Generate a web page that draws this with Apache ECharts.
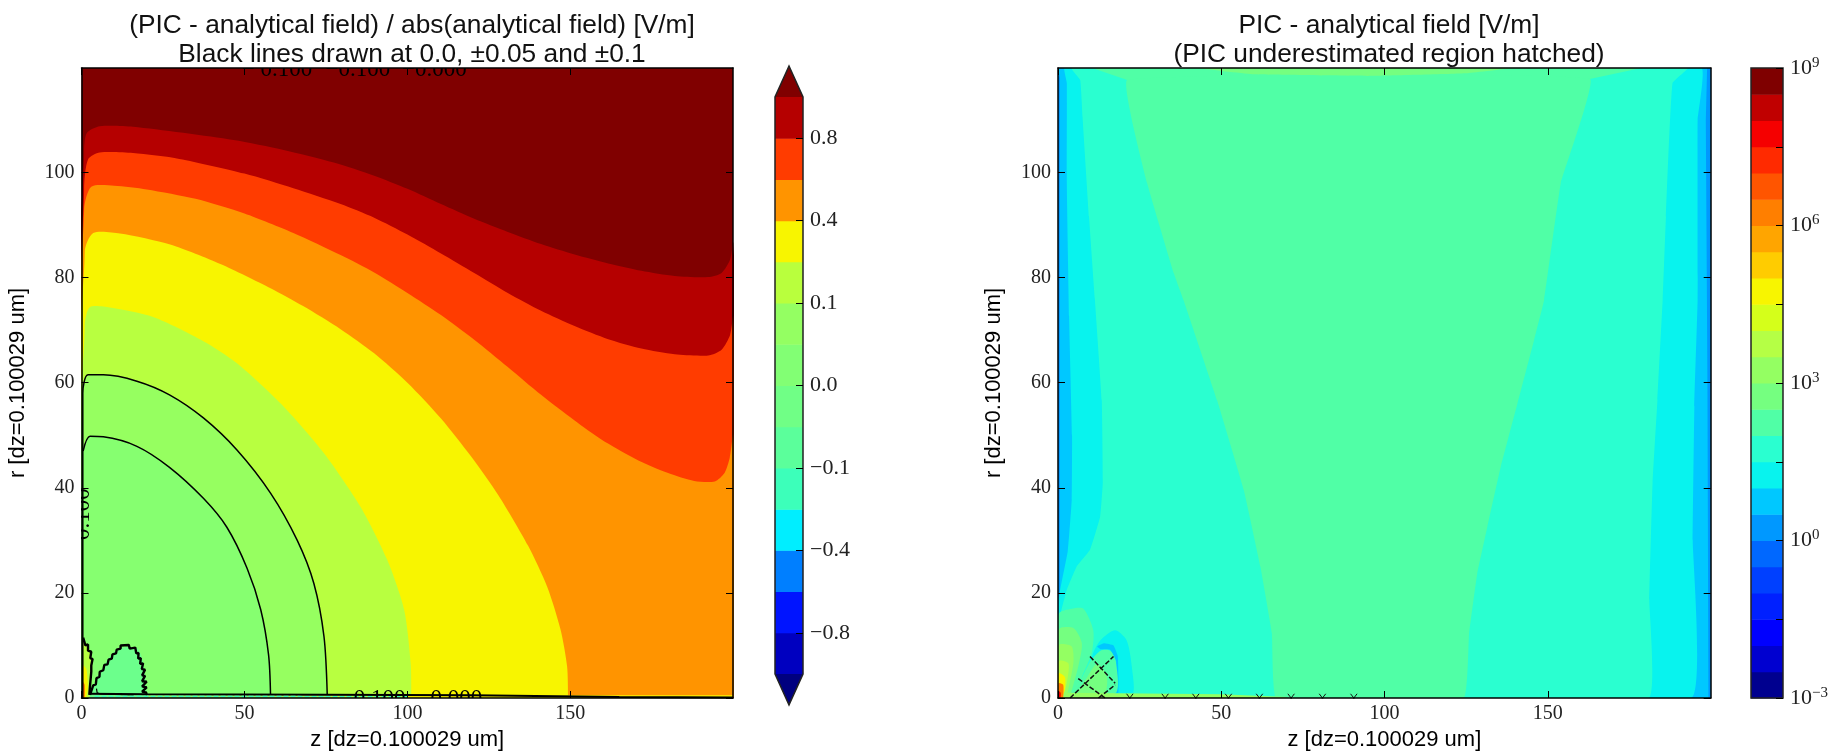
<!DOCTYPE html>
<html>
<head>
<meta charset="utf-8">
<title>PIC vs analytical field</title>
<style>
  html, body { margin: 0; padding: 0; background: #fff; }
  #chart { width: 1837px; height: 751px; }
</style>
<script src="https://cdn.jsdelivr.net/npm/echarts@6/dist/echarts.min.js"></script>
</head>
<body>
<div id="chart"></div>
<script>
// axes
const zMax = 199.9
const rMax = 119.9
const zTicks = [0, 50, 100, 150]
const rTicks = [0, 20, 40, 60, 80, 100]

// left panel: band edges, as [z, r]
const edgeDark = [[0.8, 104], [1.6, 107.5], [5.6, 108.8], [15.8, 108.7], [46.6, 106.2], [62, 104.3], [77.4, 101.9], [89.8, 99.4], [100, 96.9], [110.3, 94], [120.5, 91.2], [130.8, 88.7], [141, 86.4], [151.3, 84.4], [161.6, 82.7], [171.8, 81.3], [182, 80.3], [192.3, 80.1], [196.4, 80.9], [199, 83.4], [200, 86.6]]
const edgeRed = [[0.8, 97], [2, 102.5], [5.6, 103.8], [15.8, 103.7], [30, 102.6], [50, 99.8], [65, 97], [79.5, 94], [89.8, 91.4], [100, 88.2], [110.3, 84.6], [120.5, 80.9], [130.8, 77.1], [141, 73.7], [151.3, 70.8], [161.6, 68.3], [171.8, 66.5], [182, 65.4], [192.3, 65.2], [196.4, 66.3], [199, 69.1], [200, 72.6]]
const edgeOrange = [[0.8, 93], [3, 97.3], [10, 97.5], [20, 96.8], [35, 95], [50, 92.2], [65, 88.5], [79.5, 84.3], [89.8, 81], [100, 77.1], [110.3, 72.9], [120.5, 68.2], [130.8, 63], [141, 57.7], [151.3, 52.8], [159.5, 49.2], [170, 45.5], [180, 42.8], [188, 41.3], [194.3, 41.2], [197.3, 42.8], [198.9, 45.7], [200, 50]]
const edgeYellow = [[1, 85], [3.6, 88.5], [11.8, 88.4], [27.2, 86.3], [42.6, 82.6], [58, 78], [68, 74.6], [79.5, 70.2], [89.8, 65.6], [100, 60], [110.3, 53.2], [119.5, 46], [128, 38.5], [137, 29], [143, 21], [147, 13], [149, 6], [149.3, 0]]
const edgeLime = [[1, 71], [2.6, 74.4], [8.7, 74.3], [22, 72.5], [37.4, 67.9], [47.7, 63.7], [62, 55.5], [74.4, 46.6], [85.6, 36.4], [93.8, 26.3], [99, 16.8], [101, 6.6], [101.2, 0]]
const contourOuter = [[0.4, 0], [0.4, 58], [2, 61.5], [6.7, 61.5], [17, 60.3], [27, 57.7], [37.4, 53.3], [47.7, 47.2], [58, 39], [66.2, 30], [71.3, 21.8], [74.4, 11.7], [75.4, 0.6]]
const contourInner = [[0.5, 47], [2.6, 49.8], [6.7, 49.7], [17, 47.9], [27, 43.9], [37.4, 38], [44.6, 32.5], [50.8, 24.7], [55, 16.8], [57.4, 8.2], [58, 0.6]]
const bumpEdge = [[2.6, 0.6], [5.1, 4.1], [8.7, 7.9], [11.8, 9.5], [17, 9.5], [19, 6.6], [20, 0.6]]
const bumpContour = [[2.6, 0.6], [3.6, 2.4], [4.4, 2.6], [4.6, 3.8], [5.5, 4], [5.6, 5], [6.7, 5.3], [7, 6.3], [8, 6.4], [8.3, 7.3], [9.3, 7.5], [9.5, 8.3], [10.6, 8.5], [10.8, 9.2], [12, 9.4], [12, 10], [14.5, 10.1], [14.8, 9.4], [16.5, 9.6], [16.8, 8.5], [17.5, 8.6], [17.4, 7.5], [18.2, 7.6], [18, 6.5], [18.9, 6.6], [18.5, 5.5], [19.5, 5.4], [18.6, 4.3], [19.5, 4.2], [18.6, 3.2], [20, 3.1], [18.6, 2.2], [20, 2], [18.6, 1.2], [20, 1], [19.6, 0.6]]
const bumpInner = [[4.6, 1.8], [4.8, 1], [5.6, 0.8], [10, 0.7], [16, 0.6]]
const spikeEdge = [[0.4, 11], [2, 10], [3.3, 7], [3, 3], [2.4, 0]]
const spikeYellow = [[0.4, 6.2], [1.5, 5.5], [2, 2], [1.5, 0]]
const spikeOrange = [[0.4, 3], [1, 2.5], [1, 0]]
const spikeContour = [[0.5, 11.5], [1.2, 10], [2, 10.2], [2, 9], [3, 8.8], [2.7, 7.6], [3.4, 7.4], [3, 6.2], [3.6, 6], [3, 5], [3.5, 4.7], [2.8, 3.6], [3.2, 3.3], [2.6, 2.2], [3, 1.9], [2.4, 0.6]]
const axisContour = [[2.4, 0.8], [20, 0.7], [75, 0.6], [120, 0.5], [165, 0.2], [199.9, 0.1]]
const axisTeal = [[4, 0.3], [20, 0.3], [60, 0.3], [100, 0.25]]
const stripYellow = [[100, 0.5], [199.9, 0.5], [199.9, 0], [100, 0]]
const contourLabels = [
  { text: '\u2212 0.100', z: 60, r: 119.5, rot: 0 },
  { text: '\u22120.100', z: 84.8, r: 119.5, rot: 0 },
  { text: '\u22120.000', z: 108.3, r: 119.5, rot: 0 },
  { text: '0.100', z: 91.5, r: -0.2, rot: 0 },
  { text: '0.000', z: 115, r: -0.2, rot: 0 },
  { text: '0.100', z: 0.4, r: 35, rot: 90 }
]

// right panel
const cyanLeft = [[2, 120], [2.7, 117], [2.7, 98], [3.4, 72.6], [4.3, 50], [4.2, 37.7], [3, 28], [0.5, 20], [0.2, 15.5], [0.2, 0]]
const cyanRight = [[197, 120], [195.9, 110], [195.9, 75.8], [194.9, 55.5], [194.4, 30], [193.9, 0]]
const tealFill = [[4, 120], [6.8, 117.6], [7.5, 110.7], [9.5, 91.6], [11.3, 75.8], [13.4, 56.7], [13.7, 40.9], [12.9, 34.5], [9.8, 28.2], [5.7, 25], [2.7, 20.6], [0.6, 15.5], [0.4, 10.4], [0.4, 0], [180.8, 0], [181.1, 18.7], [182.1, 40.9], [183.6, 56.7], [185.2, 75.8], [186.2, 91.6], [188.2, 117], [193, 120]]
const greenFill = [[21.2, 117.6], [27.3, 98], [35.5, 80.8], [38.4, 75.8], [48.7, 56.7], [56.9, 39.6], [62, 25], [65.5, 12.3], [66.8, 0], [124.3, 0], [125.9, 12.3], [128.4, 23.7], [131.5, 32.6], [135.6, 44], [140.7, 56], [145.8, 68.1], [148.9, 75.8], [154, 98], [162.9, 117.8]]
const greenTop = [[10, 120], [21.2, 117.6], [162.9, 117.8], [179.4, 120]]
const topLime = [[42, 120], [60, 118.7], [95, 118.4], [125, 118.9], [140, 120]]
const blueLeft = [[0, 120], [0.6, 118], [0.6, 20], [0, 19]]
const blueRight = [[198.8, 120], [198.4, 110], [198.9, 60], [199.2, 0], [200, 0], [200, 120]]
const hotFill = [[0.2, 16], [4.2, 17], [7.8, 17], [10.8, 12.9], [10.3, 8.5], [7.3, 4], [5.2, 0]]
const hotGreen = [[0.2, 13], [4.7, 13.3], [7.3, 10.4], [6.2, 6], [3.7, 0]]
const hotLime = [[0.2, 10], [4.2, 9.8], [4.7, 6.6], [2.7, 0]]
const hotYellowGreen = [[0.2, 7], [3.2, 6.6], [2.7, 2.8], [1.6, 0]]
const hotYellow = [[0.2, 4.7], [2.1, 4], [2.1, 1.5], [1.1, 0]]
const hotOrange = [[0.2, 2.8], [1.6, 2.5], [1.6, 0]]
const hotRed = [[0.2, 1.3], [0.8, 1], [0.8, 0]]
const coolCyan = [[10.5, 8], [13, 11], [17.5, 12.9], [21, 11], [22.6, 6], [22.6, 0.5], [10, 0.5]]
const coolBlue = [[12, 9.8], [14, 10.4], [17, 10], [18.3, 8], [18.5, 4], [18.5, 1], [17.9, 1], [17.8, 7], [16, 9.2], [13, 9.3]]
const coolGreen = [[4.5, 0.5], [7, 3.5], [10, 7], [13, 9], [16, 9], [17.7, 7], [17.7, 1]]
const coolLime = [[6, 0.5], [9, 4], [12, 6.5], [15, 4], [14, 0.5]]
const stripLeft = [[2, 1], [50, 0.7], [70, 0.2], [70, 0], [2, 0]]
const hatchLong = [[[3.7, 0], [17, 7.9]], [[9.8, 7.9], [17.5, 2.8]], [[6.2, 3.7], [14.4, 0]], [[12.4, 0], [17.5, 2.5]]]
const hatchCross = [22, 32.8, 42.2, 52.2, 61.7, 71.4, 81, 90.6]

// colorbars
const leftBarColors = ['#0000C0', '#0014FF', '#007FFF', '#00EEFF', '#3CFFBA', '#5BFF9B', '#70FF86', '#82FF74', '#94FF62', '#B9FF3D', '#F8F500', '#FF9400', '#FF3C00', '#B50000']
const leftBarTicks = [1, 3, 5, 7, 9, 11, 13]
const leftBarLabels = ['\u22120.8', '\u22120.4', '\u22120.1', '0.0', '0.1', '0.4', '0.8']
const rightBarColors = ['#00008F', '#0000D0', '#0000FF', '#0020FF', '#0040FF', '#0068FF', '#0098FF', '#00C8FF', '#08F3EE', '#2AFFD0', '#50FFA6', '#75FF80', '#94FF62', '#B5FF45', '#D5FF1A', '#F8F500', '#FFCC00', '#FFA500', '#FF7F00', '#FF5500', '#FF2A00', '#F50000', '#C00000', '#7F0000']
const rightBarTicks = [0, 3, 6, 9, 12, 15, 18, 21, 24]
const rightBarExps = [-3, 0, 3, 6, 9]

const tickFont = 'Liberation Serif'
const sansFont = 'Liberation Sans'

// polygons are closed under the r = 0 line so the plot clip trims them
function close(points) {
  const first = points[0]
  const last = points[points.length - 1]
  return points.concat([[last[0] + (last[0] >= 199 ? 4 : 0), -3], [first[0], -3]])
}

const leftBands = [
  { color: '#B50000', points: close(edgeDark), smooth: 0.25 },
  { color: '#FF3C00', points: close(edgeRed), smooth: 0.25 },
  { color: '#FF9400', points: close(edgeOrange), smooth: 0.25 },
  { color: '#F8F500', points: close(edgeYellow), smooth: 0.25 },
  { color: '#B8FF40', points: close(edgeLime), smooth: 0.25 },
  { color: '#96FF60', points: close(contourOuter.slice(1)), smooth: 0.25 },
  { color: '#86FF70', points: close(contourInner), smooth: 0.25 },
  { color: '#6CFF8C', points: close(bumpEdge), smooth: 0.25 },
  { color: '#B8FF40', points: close(spikeEdge), smooth: 0.25 },
  { color: '#F8F500', points: close(spikeYellow), smooth: 0.25 },
  { color: '#FF7F00', points: close(spikeOrange), smooth: 0.25 },
  { color: '#F8F500', points: stripYellow, smooth: 0 }
]

const rightBands = [
  { color: '#0098FF', points: blueLeft, smooth: 0 },
  { color: '#0098FF', points: blueRight, smooth: 0 },
  { color: '#08F3EE', points: cyanLeft.concat([[193.9, 0]], cyanRight.slice(0, -1).reverse()), smooth: 0.1 },
  { color: '#2AFFD0', points: tealFill, smooth: 0.1 },
  { color: '#50FFA6', points: greenTop, smooth: 0 },
  { color: '#50FFA6', points: greenFill, smooth: 0.08 },
  { color: '#75FF80', points: topLime, smooth: 0.1 },
  { color: '#08F3EE', points: coolCyan, smooth: 0.25 },
  { color: '#00C8FF', points: coolBlue, smooth: 0.1 },
  { color: '#50FFA6', points: coolGreen, smooth: 0.25 },
  { color: '#75FF80', points: coolLime, smooth: 0.25 },
  { color: '#50FFA6', points: close(hotFill), smooth: 0.25 },
  { color: '#75FF80', points: close(hotGreen), smooth: 0.25 },
  { color: '#94FF62', points: close(hotLime), smooth: 0.25 },
  { color: '#B5FF45', points: close(hotYellowGreen), smooth: 0.25 },
  { color: '#F8F500', points: close(hotYellow), smooth: 0.25 },
  { color: '#FF7F00', points: close(hotOrange), smooth: 0.25 },
  { color: '#F50000', points: close(hotRed), smooth: 0.25 },
  { color: '#94FF62', points: stripLeft, smooth: 0 }
]

function bandSeries(bands, axisIndex) {
  return {
    type: 'custom',
    xAxisIndex: axisIndex,
    yAxisIndex: axisIndex,
    clip: true,
    silent: true,
    animation: false,
    z: 2,
    data: bands.map((b, i) => [i, 0]),
    renderItem(params, api) {
      const band = bands[api.value(0)]
      return {
        type: 'polygon',
        shape: { points: band.points.map(p => api.coord(p)), smooth: band.smooth },
        style: { fill: band.color }
      }
    }
  }
}

function lineSeries(points, axisIndex, width, color, dashed, smooth) {
  return {
    type: 'line',
    xAxisIndex: axisIndex,
    yAxisIndex: axisIndex,
    data: points,
    showSymbol: false,
    clip: true,
    silent: true,
    animation: false,
    smooth: smooth || false,
    z: 3,
    lineStyle: { color: color || '#000', width: width, type: dashed ? [5, 2] : 'solid' }
  }
}

function contourLabelSeries() {
  return {
    type: 'custom',
    xAxisIndex: 0,
    yAxisIndex: 0,
    clip: true,
    silent: true,
    animation: false,
    z: 4,
    data: contourLabels.map((l, i) => [i, 0]),
    renderItem(params, api) {
      const label = contourLabels[api.value(0)]
      const pos = api.coord([label.z, label.r])
      return {
        type: 'text',
        x: pos[0],
        y: pos[1],
        rotation: label.rot * Math.PI / 180,
        style: {
          text: label.text,
          font: '23px "' + tickFont + '"',
          fill: '#000',
          textAlign: 'center',
          textVerticalAlign: 'middle'
        }
      }
    }
  }
}

// a colorbar is a stack of unit cells on a value axis, tips optional
function barSeries(colors, axisIndex, tips) {
  return {
    type: 'custom',
    xAxisIndex: axisIndex,
    yAxisIndex: axisIndex,
    clip: false,
    silent: true,
    animation: false,
    z: 2,
    data: colors.map((c, i) => [i, 0]).concat([[-1, 0]]),
    renderItem(params, api) {
      const i = api.value(0)
      const n = colors.length
      if (i >= 0) {
        const a = api.coord([0, i])
        const b = api.coord([1, i + 1])
        return {
          type: 'rect',
          shape: { x: a[0], y: b[1], width: b[0] - a[0], height: a[1] - b[1] + 0.5 },
          style: { fill: colors[i] }
        }
      }
      const tip = 0.75
      const outline = [[0, 0], [1, 0], [1, n], [0, n]]
      const children = []
      if (tips) {
        outline.splice(1, 0, [0.5, -tip])
        outline.splice(4, 0, [0.5, n + tip])
        children.push({ type: 'polygon', shape: { points: [[0, 0], [0.5, -tip], [1, 0]].map(p => api.coord(p)) }, style: { fill: '#00007F' } })
        children.push({ type: 'polygon', shape: { points: [[0, n], [0.5, n + tip], [1, n]].map(p => api.coord(p)) }, style: { fill: '#800000' } })
      }
      children.push({ type: 'polygon', shape: { points: outline.map(p => api.coord(p)) }, style: { fill: 'none', stroke: '#222', lineWidth: 1.5 } })
      return { type: 'group', children: children }
    }
  }
}

function frameX(gridIndex, position) {
  const bottom = position === 'bottom'
  return {
    type: 'value',
    gridIndex: gridIndex,
    position: position,
    min: 0,
    max: zMax,
    z: 6,
    name: bottom ? 'z [dz=0.100029 um]' : '',
    nameLocation: 'middle',
    nameGap: 26,
    nameTextStyle: { fontFamily: sansFont, fontSize: 22, color: '#000' },
    splitLine: { show: false },
    axisLine: { onZero: false, lineStyle: { color: '#000', width: 1.5 } },
    axisTick: { inside: true, length: 7, customValues: zTicks, lineStyle: { color: '#000' } },
    axisLabel: { show: bottom, customValues: zTicks, margin: 6, fontFamily: tickFont, fontSize: 20, color: '#222', hideOverlap: false }
  }
}

function frameY(gridIndex, position) {
  const left = position === 'left'
  return {
    type: 'value',
    gridIndex: gridIndex,
    position: position,
    min: 0,
    max: rMax,
    z: 6,
    name: left ? 'r [dz=0.100029 um]' : '',
    nameLocation: 'middle',
    nameGap: 53,
    nameTextStyle: { fontFamily: sansFont, fontSize: 22, color: '#000' },
    splitLine: { show: false },
    axisLine: { onZero: false, lineStyle: { color: '#000', width: 1.5 } },
    axisTick: { inside: true, length: 7, customValues: rTicks, lineStyle: { color: '#000' } },
    axisLabel: { show: left, customValues: rTicks, margin: 7, fontFamily: tickFont, fontSize: 20, color: '#222', hideOverlap: false }
  }
}

function barX(gridIndex) {
  return { type: 'value', gridIndex: gridIndex, min: 0, max: 1, show: false }
}

function barY(gridIndex, count, ticks, labelValues, formatter, rich) {
  return {
    type: 'value',
    gridIndex: gridIndex,
    position: 'right',
    min: 0,
    max: count,
    z: 6,
    splitLine: { show: false },
    axisLine: { show: false, onZero: false },
    axisTick: { inside: true, length: 7, customValues: ticks, lineStyle: { color: '#000' } },
    axisLabel: { customValues: labelValues, margin: 7, fontFamily: tickFont, fontSize: 22, color: '#222', hideOverlap: false, formatter: formatter, rich: rich }
  }
}

const chart = echarts.init(document.getElementById('chart'), null, { renderer: 'canvas' })
chart.setOption({
  animation: false,
  backgroundColor: '#fff',
  title: [
    {
      text: '(PIC - analytical field) / abs(analytical field) [V/m]\nBlack lines drawn at 0.0, \u00B10.05 and \u00B10.1',
      left: 407,
      top: 6,
      textAlign: 'center',
      textStyle: { fontFamily: sansFont, fontSize: 26.3, fontWeight: 'normal', color: '#111', lineHeight: 29 }
    },
    {
      text: 'PIC - analytical field [V/m]\n(PIC underestimated region hatched)',
      left: 1384,
      top: 6,
      textAlign: 'center',
      textStyle: { fontFamily: sansFont, fontSize: 26.3, fontWeight: 'normal', color: '#111', lineHeight: 29 }
    }
  ],
  grid: [
    { left: 81.5, top: 68, width: 651.5, height: 630, outerBoundsMode: 'none', show: true, backgroundColor: '#800000', borderWidth: 0 },
    { left: 1058, top: 68, width: 652.7, height: 630, outerBoundsMode: 'none', show: true, backgroundColor: '#00C8FF', borderWidth: 0 },
    { left: 775, top: 97, width: 28, height: 577, outerBoundsMode: 'none' },
    { left: 1751, top: 68, width: 32, height: 630, outerBoundsMode: 'none' }
  ],
  xAxis: [frameX(0, 'bottom'), frameX(1, 'bottom'), barX(2), barX(3), frameX(0, 'top'), frameX(1, 'top')],
  yAxis: [
    frameY(0, 'left'),
    frameY(1, 'left'),
    barY(2, leftBarColors.length, leftBarTicks, leftBarTicks, v => leftBarLabels[leftBarTicks.indexOf(v)]),
    barY(3, rightBarColors.length, rightBarTicks, rightBarExps.map(e => (e + 3) * 2),
      v => '10{sup|' + String(v / 2 - 3).replace('-', '\u2212') + '}',
      { sup: { fontFamily: tickFont, fontSize: 15, color: '#222', padding: [0, 0, 10, 0] } }),
    frameY(0, 'right'),
    frameY(1, 'right')
  ],
  series: [
    bandSeries(leftBands, 0),
    bandSeries(rightBands, 1),
    lineSeries(contourOuter, 0, 1.5, '#000', false, 0.3),
    lineSeries(contourInner, 0, 1.5, '#000', false, 0.3),
    lineSeries(bumpContour, 0, 2.4),
    lineSeries(bumpInner, 0, 1.2),
    lineSeries(spikeContour, 0, 2.4),
    lineSeries(axisContour, 0, 2),
    lineSeries(axisTeal, 0, 1.2, '#3CFFBA', true),
    contourLabelSeries(),
    barSeries(leftBarColors, 2, true),
    barSeries(rightBarColors, 3, false)
  ].concat(
    hatchLong.map(h => lineSeries(h, 1, 1.5, '#111', true)),
    hatchCross.map(z => lineSeries([[z - 1, 0.8], [z + 1, -0.8]], 1, 1, '#111')),
    hatchCross.map(z => lineSeries([[z + 1, 0.8], [z - 1, -0.8]], 1, 1, '#111'))
  )
})
</script>
</body>
</html>
